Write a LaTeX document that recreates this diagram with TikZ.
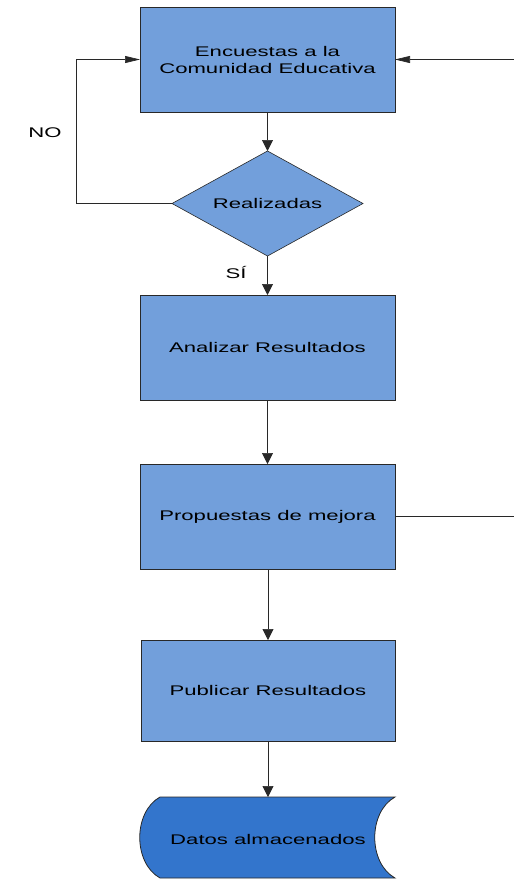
\documentclass[tikz,border=0pt]{standalone}
\usepackage{fontspec}
\setmainfont[FakeStretch=1.58]{Liberation Sans}
\usetikzlibrary{shapes.geometric,arrows.meta}
\definecolor{boxblue}{RGB}{114,159,219}
\definecolor{datablue}{RGB}{51,117,204}
\definecolor{edge}{RGB}{40,40,40}
\begin{document}
\begin{tikzpicture}[x=1pt,y=-1pt,
  every node/.style={font=\fontsize{14}{17}\selectfont},
  procbox/.style={draw=edge,line width=0.8pt,fill=boxblue,minimum width=255pt,minimum height=105pt,inner sep=0pt,outer sep=0pt,align=center},
  decision/.style={diamond,draw=edge,line width=0.6pt,fill=boxblue,minimum width=191pt,minimum height=105pt,inner sep=0pt,outer sep=0pt},
  conn/.style={draw=edge,line width=0.7pt},
  varrow/.style={conn,-{Triangle[length=11pt,width=11pt]}},
  harrow/.style={conn,-{Triangle[length=15pt,width=7pt]}}]
\useasboundingbox (0,0) rectangle (514,879);
\node[procbox] (enc) at (267.5,59.5) {Encuestas a la\\Comunidad Educativa};
\node[decision] (rea) at (267.5,203.5) {};
\node (reatext) at (rea.center) {Realizadas};
\node[procbox] (ana) at (267.5,347.5) {Analizar Resultados};
\node[procbox] (pro) at (267.5,516.5) {Propuestas de mejora};
\node[procbox,minimum width=254pt,minimum height=101pt] (pub) at (268,690.5) {Publicar Resultados};
\draw[line width=0.8pt,draw=edge,fill=datablue]
  (160,797) -- (395,797)
  .. controls (368,812) and (368,863) .. (395,878)
  -- (160,878)
  .. controls (133,863) and (133,812) .. (160,797) -- cycle;
\node (dat) at (268,839) {Datos almacenados};
\coordinate (dattop) at (268,797);
\coordinate (nofoot) at (76,203.5);
\coordinate (rin) at (514,59.5);
\coordinate (rout) at (514,516.5);
\node (no) at (45,133) {NO};
\node (si) at (236,272) {SÍ};
\draw[varrow] (enc.south) -- (rea.north);
\draw[harrow] (rea.west) -- (nofoot) |- (enc.west);
\draw[harrow] (rin) -- (enc.east);
\draw[varrow] (rea.south) -- (ana.north);
\draw[varrow] (ana.south) -- (pro.north);
\draw[varrow] (pub.north |- pro.south) -- (pub.north);
\draw[conn] (pro.east) -- (rout);
\draw[varrow] (pub.south) -- (dattop);
\end{tikzpicture}
\end{document}
